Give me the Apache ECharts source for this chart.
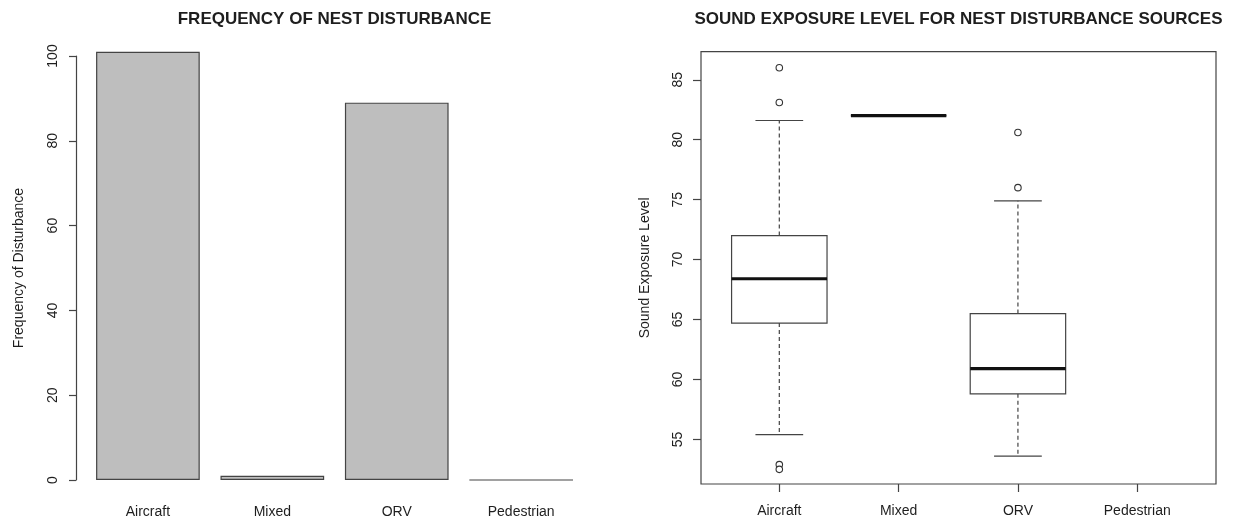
<!DOCTYPE html>
<html>
<head>
<meta charset="utf-8">
<script src="https://cdn.jsdelivr.net/npm/echarts@6/dist/echarts.min.js"></script>
<style>
html,body{margin:0;padding:0;background:#fff;overflow:hidden;}
#chart{width:1236px;height:525px;}
#dbg{position:absolute;left:-3000px;top:60px;width:560px;font:10px monospace;color:#c00;white-space:pre-wrap;}
</style>
</head>
<body>
<div id="chart"></div>
<div id="dbg"></div>
<script>
// ---- data ----
const categories = ['Aircraft', 'Mixed', 'ORV', 'Pedestrian'];
const frequency = [101, 1, 89, 0];
const freqTicks = [0, 20, 40, 60, 80, 100];
// box statistics: [lower whisker, Q1, median, Q3, upper whisker]
const boxAircraft = [55.4, 64.7, 68.4, 72.0, 81.6];
const boxMixed = [82.0, 82.0, 82.0, 82.0, 82.0];
const boxORV = [53.6, 58.8, 60.9, 65.5, 74.9];
const outliersAircraft = [86.0, 83.1, 52.9, 52.5];
const outliersORV = [80.6, 76.0];
const selTicks = [55, 60, 65, 70, 75, 80, 85];
const selRange = [51.28, 87.34];

// ---- build ----
const FONT = "'Liberation Sans', Arial, sans-serif";
const TXT = '#1e1e1e';
const LINE = '#444';

const boxData = [boxAircraft, boxMixed, boxORV].map((b, i) => [i].concat(b));
const outlierData = []
  .concat(outliersAircraft.map(v => [0, v]))
  .concat(outliersORV.map(v => [2, v]));

const chart = echarts.init(document.getElementById('chart'), null, {renderer: 'canvas'});

const option = {
  animation: false,
  backgroundColor: '#fff',
  textStyle: {fontFamily: FONT},
  title: [
    {text: 'FREQUENCY OF NEST DISTURBANCE', left: 334.5, top: 11, padding: 0, textAlign: 'center',
     textStyle: {fontFamily: FONT, fontWeight: 'bold', fontSize: 17, color: TXT}},
    {text: 'SOUND EXPOSURE LEVEL FOR NEST DISTURBANCE SOURCES', left: 958.5, top: 11, padding: 0, textAlign: 'center',
     textStyle: {fontFamily: FONT, fontWeight: 'bold', fontSize: 17, color: TXT}}
  ],
  grid: [
    {left: 85.7, right: 652.6, top: 56, bottom: 45, show: false},
    {left: 701, right: 20, top: 51.7, bottom: 41, show: true, borderColor: LINE, borderWidth: 1.2, backgroundColor: 'transparent'},
    {left: 719.65, right: 39.1, top: 51.7, bottom: 41, show: false},
    {left: 76, right: 644, top: 56, bottom: 45, show: false}
  ],
  xAxis: [
    {type: 'category', gridIndex: 0, data: categories,
     axisLine: {show: false}, axisTick: {show: false},
     axisLabel: {margin: 25, fontSize: 14, color: TXT, fontFamily: FONT}},
    {type: 'value', gridIndex: 1, min: 0, max: 1, show: false},
    {type: 'category', gridIndex: 2, data: categories,
     axisLine: {show: false},
     axisTick: {show: true, alignWithLabel: true, length: 8, lineStyle: {color: LINE, width: 1.2}},
     axisLabel: {margin: 20, fontSize: 14, color: TXT, fontFamily: FONT}},
    {type: 'category', gridIndex: 3, data: ['a'], show: false}
  ],
  yAxis: [
    {type: 'value', gridIndex: 0, min: 0, max: 100, show: false},
    {type: 'value', gridIndex: 1, min: selRange[0], max: selRange[1],
     splitLine: {show: false},
     axisLine: {show: false},
     axisTick: {show: true, length: 8, lineStyle: {color: LINE, width: 1.2}, customValues: selTicks},
     axisLabel: {rotate: 90, margin: 16, fontSize: 14, color: TXT, fontFamily: FONT, customValues: selTicks},
     name: 'Sound Exposure Level', nameLocation: 'middle', nameRotate: 90, nameGap: 49,
     nameTextStyle: {fontSize: 14, color: TXT, fontFamily: FONT}},
    {type: 'value', gridIndex: 2, min: selRange[0], max: selRange[1], show: false},
    {type: 'value', gridIndex: 3, min: freqTicks[0], max: freqTicks[freqTicks.length - 1], interval: 20,
     splitLine: {show: false},
     axisLine: {show: true, onZero: false, lineStyle: {color: LINE, width: 1.2, type: 'solid'}},
     axisTick: {show: true, inside: false, length: 7, lineStyle: {color: LINE, width: 1.2}},
     axisLabel: {rotate: 90, margin: 16, fontSize: 14, color: TXT, fontFamily: FONT},
     name: 'Frequency of Disturbance', nameLocation: 'middle', nameRotate: 90, nameGap: 50,
     nameTextStyle: {fontSize: 14, color: TXT, fontFamily: FONT}}
  ],
  series: [
    {type: 'bar', xAxisIndex: 0, yAxisIndex: 0, data: frequency, clip: false,
     barCategoryGap: '16.67%',
     itemStyle: {color: '#bebebe', borderColor: LINE, borderWidth: 1.2}},
    {type: 'custom', xAxisIndex: 2, yAxisIndex: 2, data: boxData, clip: false,
     encode: {x: 0, y: [1, 2, 3, 4, 5]},
     renderItem: function (params, api) {
       const x = api.value(0);
       const lo = api.coord([x, api.value(1)]);
       const q1 = api.coord([x, api.value(2)]);
       const med = api.coord([x, api.value(3)]);
       const q3 = api.coord([x, api.value(4)]);
       const hi = api.coord([x, api.value(5)]);
       const band = api.size([1, 0])[0];
       const hb = band * 0.4, hc = hb * 0.5, cx = med[0];
       const solid = {stroke: LINE, lineWidth: 1.2, fill: null};
       const dashed = {stroke: LINE, lineWidth: 1.2, lineDash: [4, 3], fill: null};
       return {type: 'group', children: [
         {type: 'line', shape: {x1: cx, y1: q3[1], x2: cx, y2: hi[1]}, style: dashed},
         {type: 'line', shape: {x1: cx, y1: q1[1], x2: cx, y2: lo[1]}, style: dashed},
         {type: 'line', shape: {x1: cx - hc, y1: hi[1], x2: cx + hc, y2: hi[1]}, style: solid},
         {type: 'line', shape: {x1: cx - hc, y1: lo[1], x2: cx + hc, y2: lo[1]}, style: solid},
         {type: 'rect', shape: {x: cx - hb, y: q3[1], width: 2 * hb, height: q1[1] - q3[1]}, style: {stroke: LINE, lineWidth: 1.2, fill: '#fff'}},
         {type: 'line', shape: {x1: cx - hb, y1: med[1], x2: cx + hb, y2: med[1]}, style: {stroke: '#111', lineWidth: 3.2}}
       ]};
     }},
    {type: 'scatter', xAxisIndex: 2, yAxisIndex: 2, data: outlierData, clip: false,
     symbol: 'circle', symbolSize: 6.5,
     itemStyle: {color: '#ffffff', borderColor: '#333', borderWidth: 1.1, opacity: 1}}
  ]
};
chart.setOption(option);
try {
  const out = [];
  const list = chart.getZr().storage.getDisplayList(true);
  list.forEach(el => {
    const b = el.getBoundingRect && el.getBoundingRect();
    const t = el.transform ? el.transform.map(v => Math.round(v * 10) / 10).join(',') : '-';
    if (b && b.x + (el.transform ? el.transform[4] : 0) < 90) {
      out.push(el.type + ' ' + Math.round(b.x) + ',' + Math.round(b.y) + ' ' + t + ' ' + el.ignore);
    }
  });
  document.getElementById('dbg').textContent = out.join('\n');
} catch (e) { document.getElementById('dbg').textContent = ''; }
</script>
</body>
</html>
